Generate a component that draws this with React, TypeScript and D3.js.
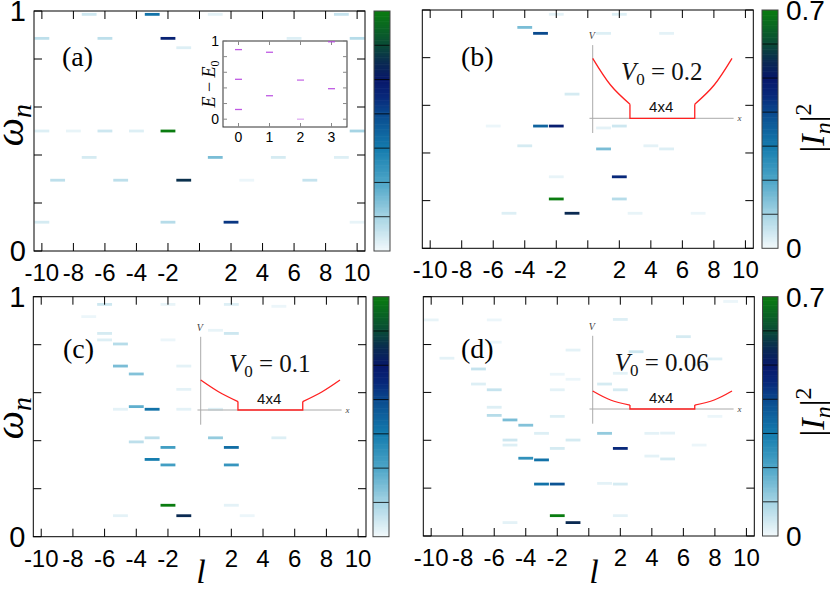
import React from "react";
import * as d3 from "d3";

const W = 830;
const H = 592;
const SANS = "'Liberation Sans', Arial, sans-serif";
const SERIF = "'Liberation Serif', 'Times New Roman', serif";

const lTicks = [-10, -8, -6, -4, -2, 0, 2, 4, 6, 8, 10];
const omegaTicks = [0, 0.2, 0.4, 0.6, 0.8, 1];
const cbStops = [0, 0.1, 0.2, 0.3, 0.4, 0.45, 0.5, 0.55, 0.6, 0.65, 0.7];
const cbColors = ["#f4fafc", "#a6d4e4", "#4ea6c8", "#147cae", "#0a4a8e", "#08287a", "#08186a", "#0a2a52", "#0a4a38", "#0a6424", "#0a7c10"];
const cbLines = [0.1, 0.2, 0.3, 0.4, 0.5, 0.6];

// [l, omega_n, |I_n|^2]
const barsA = [
  [-7, 0.986, 0.05], [-3, 0.986, 0.32], [1, 0.986, 0.02], [9, 0.986, 0.06],
  [-10, 0.886, 0.07], [-6, 0.886, 0.07], [-2, 0.886, 0.47], [6, 0.886, 0.03], [10, 0.886, 0.08],
  [-1, 0.847, 0.03],
  [-10, 0.5, 0.03], [-8, 0.5, 0.015], [-6, 0.5, 0.05], [-4, 0.5, 0.03], [-2, 0.5, 0.7], [10, 0.5, 0.1],
  [-7, 0.39, 0.04], [1, 0.39, 0.15], [5, 0.39, 0.04], [9, 0.39, 0.03],
  [-9, 0.295, 0.07], [-5, 0.295, 0.07], [-1, 0.295, 0.56], [3, 0.295, 0.01], [7, 0.295, 0.06],
  [-10, 0.12, 0.04], [-2, 0.12, 0.08], [2, 0.12, 0.43], [10, 0.12, 0.015],
];

const barsB = [
  [-2, 0.982, 0.02], [2, 0.982, 0.03],
  [-4, 0.927, 0.15],
  [-3, 0.902, 0.4], [1, 0.902, 0.03], [5, 0.902, 0.02],
  [-1, 0.647, 0.04],
  [-6, 0.513, 0.01], [-3, 0.513, 0.35], [-2, 0.513, 0.48], [1, 0.505, 0.02], [2, 0.513, 0.05],
  [-4, 0.43, 0.04], [4, 0.43, 0.02], [5, 0.417, 0.03],
  [1, 0.417, 0.15],
  [-2, 0.3, 0.015], [2, 0.3, 0.45],
  [-2, 0.207, 0.7], [2, 0.207, 0.08],
  [-5, 0.147, 0.03], [-1, 0.147, 0.55], [3, 0.147, 0.015], [7, 0.147, 0.01],
];

const barsC = [
  [-6, 0.968, 0.05], [-2, 0.968, 0.015], [2, 0.968, 0.03], [5, 0.96, 0.01],
  [-7, 0.917, 0.01],
  [-6, 0.847, 0.04], [1, 0.86, 0.015], [2, 0.847, 0.05],
  [-6, 0.82, 0.03], [-2, 0.82, 0.01],
  [-5, 0.803, 0.08],
  [-5, 0.711, 0.15], [-1, 0.711, 0.02],
  [-4, 0.678, 0.14],
  [-1, 0.614, 0.02],
  [-5, 0.531, 0.02], [-4, 0.542, 0.18], [-3, 0.531, 0.32], [-1, 0.531, 0.02], [1, 0.531, 0.03],
  [-3, 0.412, 0.07], [1, 0.412, 0.12], [5, 0.412, 0.03],
  [-4, 0.395, 0.07],
  [-2, 0.372, 0.22], [2, 0.372, 0.33],
  [-3, 0.322, 0.3],
  [-2, 0.299, 0.22], [2, 0.299, 0.24],
  [-2, 0.131, 0.7], [2, 0.131, 0.02],
  [-5, 0.0875, 0.02], [-1, 0.0875, 0.55], [3, 0.0875, 0.01],
];

const barsD = [
  [9, 0.98, 0.01],
  [-10, 0.903, 0.015], [-6, 0.903, 0.01], [2, 0.905, 0.03],
  [6, 0.833, 0.04],
  [-6, 0.81, 0.01],
  [-1, 0.777, 0.02], [3, 0.77, 0.05],
  [-9, 0.743, 0.02], [8, 0.74, 0.03], [7, 0.715, 0.02],
  [-7, 0.698, 0.06],
  [-2, 0.676, 0.01], [2, 0.68, 0.02],
  [-1, 0.655, 0.01],
  [-7, 0.635, 0.03], [1, 0.635, 0.04],
  [-6, 0.611, 0.06], [-2, 0.611, 0.02], [2, 0.611, 0.04],
  [-6, 0.538, 0.03],
  [-6, 0.504, 0.08], [-2, 0.5, 0.03], [8, 0.5, 0.01],
  [-5, 0.485, 0.15],
  [-4, 0.463, 0.14],
  [-3, 0.429, 0.03], [1, 0.429, 0.12], [4, 0.429, 0.02], [5, 0.43, 0.02],
  [-5, 0.401, 0.05], [-1, 0.401, 0.04],
  [-5, 0.38, 0.03], [7, 0.38, 0.01],
  [-2, 0.366, 0.04], [2, 0.366, 0.45],
  [4, 0.334, 0.02], [-4, 0.325, 0.25], [5, 0.322, 0.04],
  [-3, 0.318, 0.32],
  [-3, 0.217, 0.32], [-2, 0.217, 0.38], [1, 0.22, 0.02], [2, 0.217, 0.04],
  [-2, 0.085, 0.7], [2, 0.085, 0.02],
  [-5, 0.056, 0.02], [-1, 0.056, 0.55],
];

// inset of (a): l, E - E0, strength
const insetL = [0, 0, 0, 1, 1, 2, 2, 3, 3];
const insetE = [0.89, 0.51, 0.124, 0.856, 0.3, 0.5, 0.0, 0.99, 0.39];
const insetAlpha = [0.9, 0.9, 0.9, 0.9, 0.9, 0.8, 0.45, 0.9, 0.9];
const insetXTicks = [0, 1, 2, 3];
const insetYTicks = [0, 0.2, 0.4, 0.6, 0.8, 1];

// potential sketches
const potX = [-4.3, -3.2, -2, -2, 2, 2, 3.2, 4.3];
const potB = [0.2, 0.111, 0.047, 0, 0, 0.047, 0.111, 0.2];
const potC = [0.1, 0.061, 0.028, 0, 0, 0.028, 0.061, 0.1];
const potD = [0.06, 0.03, 0.013, 0, 0, 0.013, 0.03, 0.06];

const color = d3.scaleLinear<string>().domain(cbStops).range(cbColors).interpolate(d3.interpolateRgb).clamp(true);
const cbSteps = d3.range(0, 0.7, 0.005);

function Potential({ ox, oy, v, v0 }) {
  const px = d3.scaleLinear().domain([-4.3, 4.3]).range([ox, ox + 139.3]);
  const py = d3.scaleLinear().domain([0, 0.25]).range([oy, oy - 75]);
  const pts = potX.map((x, i) => [x, v[i]]);
  const curve = d3.line().x(d => px(d[0])).y(d => py(d[1])).curve(d3.curveNatural);
  const straight = d3.line().x(d => px(d[0])).y(d => py(d[1]));
  return (
    <g>
      <line x1={px(-4.3)} x2={px(-4.3)} y1={py(0.244)} y2={py(-0.049)} stroke="#aaa" strokeWidth={1} />
      <line x1={px(-4.5)} x2={px(4.4)} y1={oy} y2={oy} stroke="#aaa" strokeWidth={1} />
      <text x={px(-4.3) - 1} y={py(0.265)} fontFamily={SERIF} fontStyle="italic" fontSize={10} fill="#444" textAnchor="middle">V</text>
      <text x={px(4.4) + 6} y={oy + 3} fontFamily={SERIF} fontStyle="italic" fontSize={9} fill="#444" textAnchor="middle">x</text>
      <path d={curve(pts.slice(0, 3))} fill="none" stroke="#ff2020" strokeWidth={1.3} />
      <path d={straight(pts.slice(2, 6))} fill="none" stroke="#ff2020" strokeWidth={1.3} />
      <path d={curve(pts.slice(5, 8))} fill="none" stroke="#ff2020" strokeWidth={1.3} />
      <text x={ox + 69} y={oy - 38} fontFamily={SERIF} fontSize={25} textAnchor="middle" fill="#111">
        <tspan fontStyle="italic">V</tspan>
        <tspan fontSize={17} dy={5}>0</tspan>
        <tspan dy={-5}>{" = " + v0}</tspan>
      </text>
      <text x={ox + 68.5} y={oy - 6} fontFamily={SANS} fontSize={15} textAnchor="middle" fill="#111">4x4</text>
    </g>
  );
}

function InsetA() {
  const x0 = 223, x1 = 347, y0 = 41, y1 = 127;
  const ix = d3.scaleLinear().domain([-0.5, 3.5]).range([x0, x1]);
  const iy = d3.scaleLinear().domain([-0.1, 1]).range([y1, y0]);
  return (
    <g>
      <rect x={x0} y={y0} width={x1 - x0} height={y1 - y0} fill="#fff" stroke="#333" strokeWidth={1} />
      {insetYTicks.map(t => (
        <g key={"y" + t}>
          <line x1={x0} x2={x0 + 4} y1={iy(t)} y2={iy(t)} stroke="#888" />
          <line x1={x1} x2={x1 - 4} y1={iy(t)} y2={iy(t)} stroke="#888" />
        </g>
      ))}
      {insetXTicks.map(t => (
        <g key={"x" + t}>
          <line x1={ix(t)} x2={ix(t)} y1={y1} y2={y1 - 4} stroke="#888" />
          <line x1={ix(t)} x2={ix(t)} y1={y0} y2={y0 + 4} stroke="#888" />
          <text x={ix(t)} y={y1 + 15} fontFamily={SANS} fontSize={14} textAnchor="middle">{t}</text>
        </g>
      ))}
      <text x={x0 - 4} y={iy(1)} dy="0.36em" fontFamily={SANS} fontSize={14} textAnchor="end">1</text>
      <text x={x0 - 4} y={iy(0)} dy="0.36em" fontFamily={SANS} fontSize={14} textAnchor="end">0</text>
      <text transform={`translate(${x0 - 8},${(y0 + y1) / 2}) rotate(-90)`} fontFamily={SERIF} fontSize={18} textAnchor="middle">
        <tspan fontStyle="italic">E</tspan>
        <tspan>{" \u2212 "}</tspan>
        <tspan fontStyle="italic">E</tspan>
        <tspan fontSize={12} dy={4}>0</tspan>
      </text>
      {insetL.map((l, i) => (
        <line key={i} x1={ix(l) - 3.5} x2={ix(l) + 3.5} y1={iy(insetE[i])} y2={iy(insetE[i])}
          stroke="#b848e0" strokeOpacity={insetAlpha[i]} strokeWidth={1.3} />
      ))}
    </g>
  );
}

function Panel({ box, cb, bars, label, labelPos, yLabels, cbLabels, inset }) {
  const x = d3.scaleLinear().domain([-10.5, 10.5]).range([box.left, box.right]);
  const y = d3.scaleLinear().domain([0, 1]).range([box.bottom, box.top]);
  const cy = d3.scaleLinear().domain([0, 0.7]).range([box.bottom, box.top]);
  return (
    <g>
      <rect x={box.left} y={box.top} width={box.right - box.left} height={box.bottom - box.top} fill="#fff" />
      {bars.map((b, i) => (
        <rect key={i} x={x(b[0] - 0.47)} y={y(b[1]) - 1.4} width={x(b[0] + 0.47) - x(b[0] - 0.47)} height={2.8} fill={color(b[2])} />
      ))}
      {inset}
      <rect x={box.left} y={box.top} width={box.right - box.left} height={box.bottom - box.top} fill="none" stroke="#000" strokeWidth={1} />
      {lTicks.map(t => (
        <g key={"lt" + t}>
          <line x1={x(t)} x2={x(t)} y1={box.bottom} y2={box.bottom - 8} stroke="#000" />
          <line x1={x(t)} x2={x(t)} y1={box.top} y2={box.top + 8} stroke="#000" />
          {t !== 0 && (
            <text x={x(t)} y={box.bottom + 30} fontFamily={SANS} fontSize={24} textAnchor="middle">{t}</text>
          )}
        </g>
      ))}
      {omegaTicks.map(t => (
        <g key={"wt" + t}>
          <line x1={box.left} x2={box.left + 8} y1={y(t)} y2={y(t)} stroke="#000" />
          <line x1={box.right} x2={box.right - 8} y1={y(t)} y2={y(t)} stroke="#000" />
        </g>
      ))}
      {yLabels && (
        <g fontFamily={SANS} fontSize={29} textAnchor="end">
          <text x={box.left - 8} y={y(1)} dy="0.36em">1</text>
          <text x={box.left - 8} y={y(0)} dy="0.36em">0</text>
        </g>
      )}
      {cbSteps.map(s => (
        <rect key={"cs" + s} x={cb[0]} y={cy(s + 0.005)} width={cb[1] - cb[0]} height={cy(s) - cy(s + 0.005) + 0.6} fill={color(s + 0.0025)} />
      ))}
      {cbLines.map(t => (
        <line key={"cb" + t} x1={cb[0]} x2={cb[1]} y1={cy(t)} y2={cy(t)} stroke="#000" strokeWidth={1} strokeOpacity={0.8} />
      ))}
      <rect x={cb[0]} y={box.top} width={cb[1] - cb[0]} height={box.bottom - box.top} fill="none" stroke="#444" strokeWidth={1} />
      {cbLabels && (
        <g fontFamily={SANS} fontSize={28} textAnchor="start">
          <text x={cb[1] + 8} y={cy(0.7)} dy="0.36em">0.7</text>
          <text x={cb[1] + 8} y={cy(0)} dy="0.36em">0</text>
        </g>
      )}
      <text x={labelPos[0]} y={labelPos[1]} fontFamily={SERIF} fontSize={28}>{"(" + label + ")"}</text>
    </g>
  );
}

export default function App() {
  return (
    <svg width={W} height={H} style={{ position: "absolute", left: 0, top: 0, background: "#fff" }}>
      <rect width={W} height={H} fill="#fff" />
      <Panel box={{ left: 34, right: 365, top: 11, bottom: 251 }} cb={[374, 390]} bars={barsA}
        label="a" labelPos={[62, 66]} yLabels={true} cbLabels={false} inset={<InsetA />} />
      <Panel box={{ left: 422.3, right: 753.3, top: 10, bottom: 248.3 }} cb={[762, 778]} bars={barsB}
        label="b" labelPos={[461, 66]} yLabels={false} cbLabels={true}
        inset={<Potential ox={592.7} oy={118.3} v={potB} v0="0.2" />} />
      <Panel box={{ left: 33.3, right: 366, top: 296.7, bottom: 536.7 }} cb={[373, 389]} bars={barsC}
        label="c" labelPos={[63, 358]} yLabels={true} cbLabels={false}
        inset={<Potential ox={200.7} oy={410} v={potC} v0="0.1" />} />
      <Panel box={{ left: 423.3, right: 754.3, top: 296.7, bottom: 536 }} cb={[762.5, 778]} bars={barsD}
        label="d" labelPos={[461, 358]} yLabels={false} cbLabels={true}
        inset={<Potential ox={592.7} oy={409} v={potD} v0="0.06" />} />
      {[125, 418].map(cy => (
        <text key={"w" + cy} transform={`translate(23,${cy}) rotate(-90)`} fontFamily={SERIF} fontStyle="italic" fontSize={40} textAnchor="middle">
          <tspan>ω</tspan>
          <tspan fontSize={28} dy={8}>n</tspan>
        </text>
      ))}
      {[128, 412].map(cy => (
        <text key={"i" + cy} transform={`translate(824,${cy}) rotate(-90)`} fontFamily={SERIF} fontSize={34} textAnchor="middle">
          <tspan>|</tspan>
          <tspan fontStyle="italic">I</tspan>
          <tspan fontStyle="italic" fontSize={24} dy={7}>n</tspan>
          <tspan dy={-7}>|</tspan>
          <tspan fontSize={24} dy={-13}>2</tspan>
        </text>
      ))}
      <text x={201} y={583} fontFamily={SERIF} fontStyle="italic" fontSize={34} textAnchor="middle">l</text>
      <text x={594} y={583} fontFamily={SERIF} fontStyle="italic" fontSize={34} textAnchor="middle">l</text>
    </svg>
  );
}
